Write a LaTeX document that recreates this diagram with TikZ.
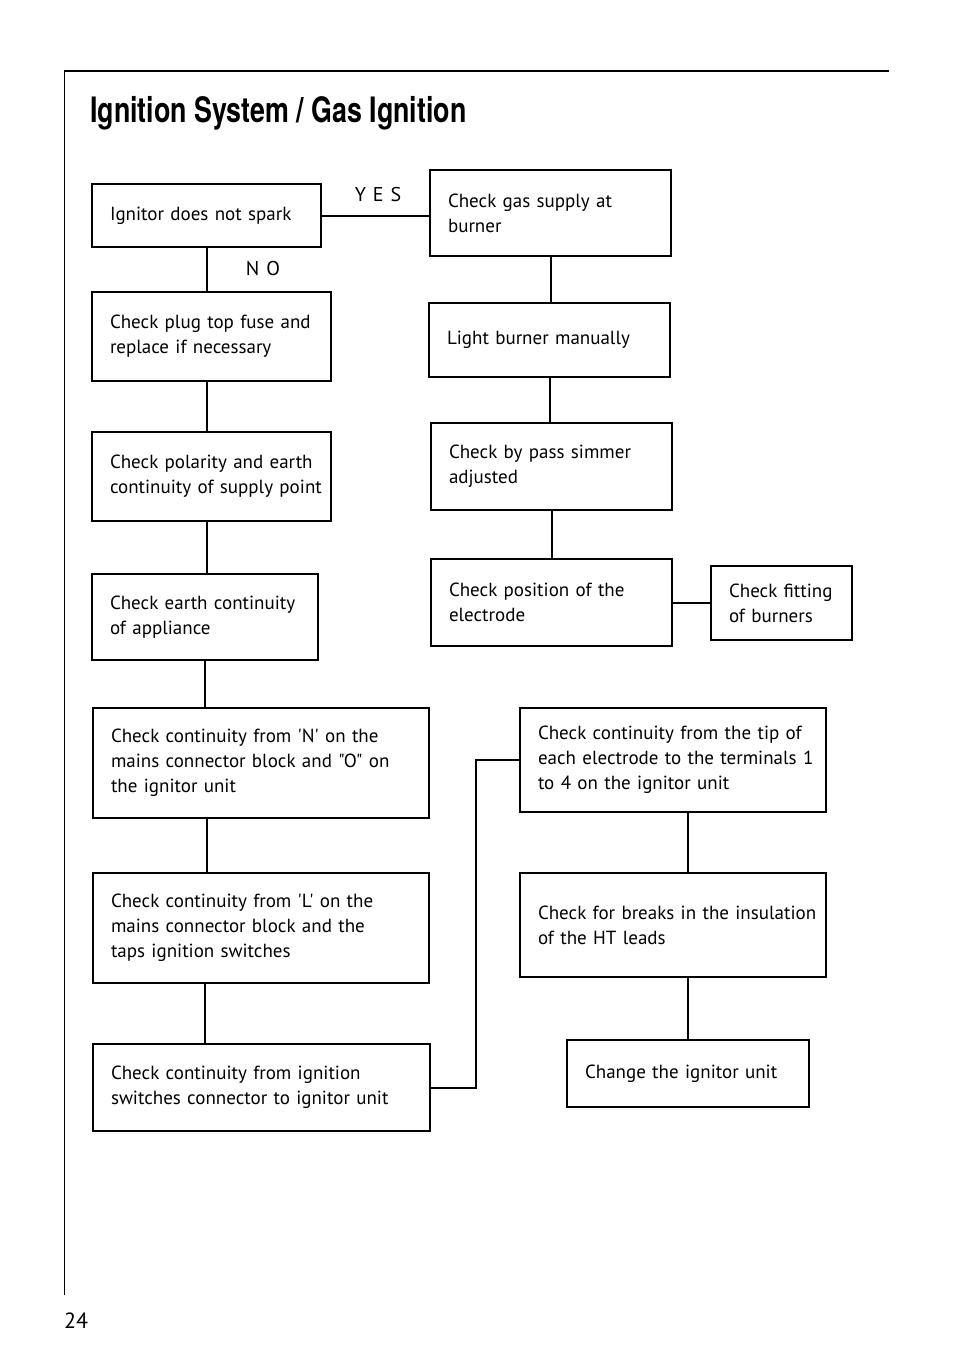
\documentclass[tikz,border=0pt]{standalone}
\usepackage{fontspec}
\usepackage{graphicx}
\newfontfamily\bodyfont{PT Sans}
\newfontfamily\titlefont{TeX Gyre Heros}
\usetikzlibrary{positioning,calc}

\begin{document}
\begin{tikzpicture}[x=1pt,y=-1pt,
  every node/.style={font=\bodyfont\fontsize{19}{25}\selectfont},
  stepbox/.style={draw,line width=2pt,anchor=north west,inner xsep=4pt,inner ysep=0pt,align=left,
    execute at begin node={\leftskip=14pt\hyphenpenalty=10000}},
  link/.style={line width=2pt},
  answer/.style={inner sep=0pt,font=\bodyfont\fontsize{20}{20}\selectfont}]
\useasboundingbox (0,0) rectangle (954,1354);
% page frame
\draw[line width=1pt] (64,1295) -- (64,71) -- (889,71);
\node (title) at (90,122) [anchor=base west,inner sep=0pt,font=\titlefont\bfseries\fontsize{35}{40}\selectfont] {\scalebox{0.766}[1]{Ignition System / Gas Ignition}};
\node (page) at (64,1328) [anchor=base west,inner sep=0pt,font=\bodyfont\fontsize{22}{24}\selectfont] {24};

% left column
\node (spark) at (91,183) [stepbox,text width=221pt,minimum height=63pt] {Ignitor does not spark};
\node (fuse) at (91,291) [stepbox,text width=231pt,minimum height=89pt] {Check plug top fuse and\\replace if necessary};
\node (polar) at (91,431) [stepbox,text width=231pt,minimum height=89pt] {Check polarity and earth\\continuity of supply point};
\node (earth) at (91,573) [stepbox,text width=218pt,minimum height=86pt] {Check earth continuity\\of appliance};
\node (ncont) at (92,707) [stepbox,text width=328pt,minimum height=110pt] {Check continuity from 'N' on the\\mains connector block and "O" on\\the ignitor unit};
\node (lcont) at (92,872) [stepbox,text width=328pt,minimum height=110pt] {Check continuity from 'L' on the\\mains connector block and the\\taps ignition switches};
\node (swcont) at (92,1043) [stepbox,text width=329pt,minimum height=87pt] {Check continuity from ignition\\switches connector to ignitor unit};

% right column
\node (gas) at (429,169) [stepbox,text width=233pt,minimum height=86pt] {Check gas supply at\\burner};
\node (light) at (428,302) [stepbox,text width=233pt,minimum height=74pt] {Light burner manually};
\node (simmer) at (430,422) [stepbox,text width=233pt,minimum height=87pt] {Check by pass simmer\\adjusted};
\node (electrode) at (430,558) [stepbox,text width=233pt,minimum height=87pt] {Check position of the\\electrode};
\node (fitting) at (710,565) [stepbox,text width=133pt,minimum height=74pt] {Check fitting\\of burners};
\node (tip) at (519,707) [stepbox,text width=298pt,minimum height=104pt] {Check continuity from the tip of\\each electrode to the terminals 1\\to 4 on the ignitor unit};
\node (leads) at (519,872) [stepbox,text width=298pt,minimum height=104pt] {Check for breaks in the insulation\\of the HT leads};
\node (change) at (566,1039) [stepbox,text width=234pt,minimum height=67pt] {Change the ignitor unit};

% answers
\node (yes) at (378,194) [answer] {Y\hspace{7pt}E\hspace{7pt}S};
\node (no) at (263,268) [answer] {N\hspace{7pt}O};

% connectors
\draw[link] (spark.east) -- (spark.east -| gas.west);
\draw[link] (spark.south) -- (spark.south |- fuse.north);
\draw[link] (fuse.south -| spark.south) -- (polar.north -| spark.south);
\draw[link] (polar.south -| spark.south) -- (earth.north -| spark.south);
\draw[link] (earth.south) -- (earth.south |- ncont.north);
\draw[link] (ncont.south -| spark.south) -- (lcont.north -| spark.south);
\draw[link] (lcont.south -| earth.south) -- (swcont.north -| earth.south);
\draw[link] (gas.south) -- (gas.south |- light.north);
\draw[link] (light.south) -- (light.south |- simmer.north);
\draw[link] (simmer.south) -- (simmer.south |- electrode.north);
\draw[link] (electrode.east) -- (electrode.east -| fitting.west);
\draw[link] (swcont.east) -- ++(45,0) |- (tip.west);
\draw[link] (tip.south -| change.north) -- (leads.north -| change.north);
\draw[link] (leads.south -| change.north) -- (change.north);
\end{tikzpicture}
\end{document}
